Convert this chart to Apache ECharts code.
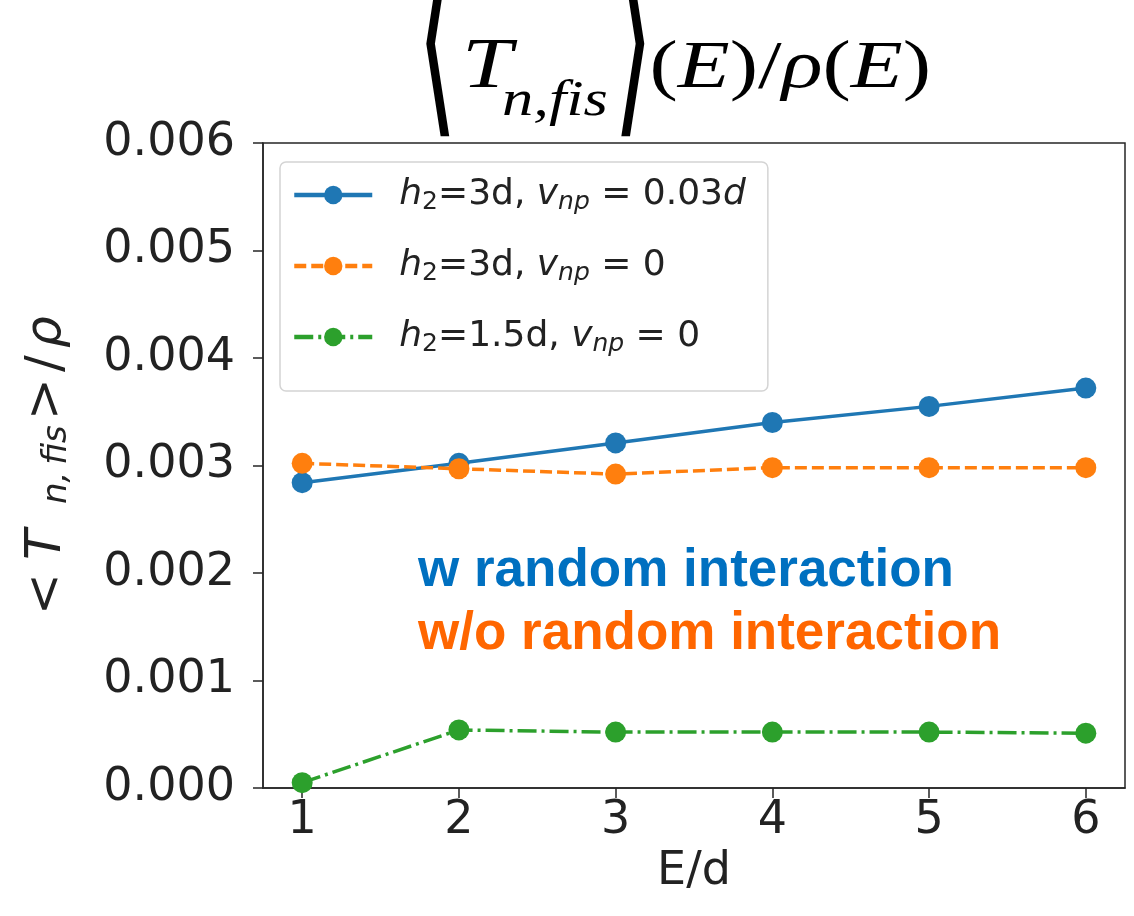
<!DOCTYPE html>
<html>
<head>
<meta charset="utf-8">
<script src="https://cdn.jsdelivr.net/npm/echarts@6/dist/echarts.min.js"></script>
<style>
  html, body { margin: 0; padding: 0; background: #ffffff; }
  #chart { width: 1134px; height: 916px; }
</style>
</head>
<body>
<div id="chart"></div>
<script>
// Excitation energy in units of d
const energies = [1, 2, 3, 4, 5, 6];
// <T_n,fis>/rho for each configuration
const withInteraction = [0.00284, 0.00302, 0.00321, 0.00340, 0.00355, 0.00372];   // h2=3d, v_np=0.03d
const withoutInteraction = [0.00302, 0.00297, 0.00292, 0.00298, 0.00298, 0.00298]; // h2=3d, v_np=0
const smallH2 = [0.00005, 0.00054, 0.00052, 0.00052, 0.00052, 0.00051];             // h2=1.5d, v_np=0

const xTicks = [1, 2, 3, 4, 5, 6];
const yTicks = [0, 0.001, 0.002, 0.003, 0.004, 0.005, 0.006];

const seriesNames = ['h2=3d, vnp=0.03d', 'h2=3d, vnp=0', 'h2=1.5d, vnp=0'];
const legendRich = {
  'h2=3d, vnp=0.03d': '{it0|h}{sb|2}{rm|=3d, }{it|v}{si|np}{rm| = 0.03}{it|d}',
  'h2=3d, vnp=0': '{it0|h}{sb|2}{rm|=3d, }{it|v}{si|np}{rm| = 0}',
  'h2=1.5d, vnp=0': '{it0|h}{sb|2}{rm|=1.5d, }{it|v}{si|np}{rm| = 0}'
};

const INK = '#222222';
const SANS = 'DejaVu Sans';
const SERIF = 'Liberation Serif';

function pairs(ys) {
  return energies.map((x, i) => [x, ys[i]]);
}

// y position for a 'middle'-aligned text whose alphabetic baseline should sit at `baseline`
function mid(baseline, size) {
  return baseline - 0.3 * size;
}

const chart = echarts.init(document.getElementById('chart'), null, { renderer: 'canvas' });

// Title:  <T_{n,fis}>(E)/rho(E)
const bracketStyle = { fontFamily: SANS, fontSize: 80, fill: '#000', align: 'left', verticalAlign: 'middle' };
const titleGroup = {
  type: 'group',
  x: 0, y: 0,
  children: [
    { type: 'text', x: 417, y: 55, scaleX: 1.3, scaleY: 2.6, style: Object.assign({ text: '\u27E8' }, bracketStyle) },
    { type: 'text', x: 613, y: 55, scaleX: 1.3, scaleY: 2.6, style: Object.assign({ text: '\u27E9' }, bracketStyle) },
    {
      type: 'group', x: 427, y: 0, scaleX: 1.25, scaleY: 1,
      children: [
        { type: 'text', x: 28, y: mid(90, 72), style: { text: 'T', fontFamily: SERIF, fontStyle: 'italic', fontSize: 72, fill: '#000', align: 'left', verticalAlign: 'middle' } },
        { type: 'text', x: 60, y: mid(117, 50), style: { text: 'n,fis', fontFamily: SERIF, fontStyle: 'italic', fontSize: 50, fill: '#000', align: 'left', verticalAlign: 'middle' } },
        {
          type: 'text', x: 178, y: mid(90, 68),
          style: {
            text: '{u|(}{i|E}{u|)/}{i|\u03C1}{u|(}{i|E}{u|)}',
            align: 'left', verticalAlign: 'middle',
            rich: {
              u: { fontFamily: SERIF, fontSize: 68, fill: '#000' },
              i: { fontFamily: SERIF, fontSize: 68, fontStyle: 'italic', fill: '#000' }
            }
          }
        }
      ]
    }
  ]
};

// Y axis title:  < T_{n,fis} > / rho   (reads bottom to top)
const yTitle = {
  type: 'group',
  x: 62, y: 610,
  rotation: Math.PI / 2,
  children: [
    { type: 'text', x: -5, y: mid(0, 50), style: { text: '<', fontFamily: SANS, fontSize: 50, fill: INK, align: 'left', verticalAlign: 'middle' } },
    { type: 'text', x: 50, y: mid(0, 50), style: { text: 'T', fontFamily: SANS, fontStyle: 'italic', fontSize: 50, fill: INK, align: 'left', verticalAlign: 'middle' } },
    { type: 'text', x: 106, y: mid(11, 34) - 6, style: { text: 'n,\u2009fis', fontFamily: SANS, fontStyle: 'italic', fontSize: 34, fill: INK, align: 'left', verticalAlign: 'middle' } },
    { type: 'text', x: 190, y: mid(0, 50), style: { text: '>', fontFamily: SANS, fontSize: 50, fill: INK, align: 'left', verticalAlign: 'middle' } },
    { type: 'text', x: 238, y: mid(0, 50), style: { text: '/', fontFamily: SANS, fontSize: 50, fill: INK, align: 'left', verticalAlign: 'middle' } },
    { type: 'text', x: 262, y: mid(0, 50), style: { text: '\u03C1', fontFamily: SANS, fontStyle: 'italic', fontSize: 50, fill: INK, align: 'left', verticalAlign: 'middle' } }
  ]
};

// In-plot annotations
const notes = [
  { type: 'text', x: 418, y: mid(587, 53), style: { text: 'w random interaction', fontFamily: 'Liberation Sans', fontWeight: 'bold', fontSize: 53, fill: '#0070c0', align: 'left', verticalAlign: 'middle' } },
  { type: 'text', x: 418, y: mid(650, 53), style: { text: 'w/o random interaction', fontFamily: 'Liberation Sans', fontWeight: 'bold', fontSize: 53, fill: '#ff6600', align: 'left', verticalAlign: 'middle' } }
];

const legendTextRich = {
  it0: { fontFamily: SANS, fontStyle: 'italic', fontSize: 36, lineHeight: 40, fill: INK, padding: [0, 0, 0, 22] },
  it: { fontFamily: SANS, fontStyle: 'italic', fontSize: 36, lineHeight: 40, fill: INK },
  rm: { fontFamily: SANS, fontSize: 36, lineHeight: 40, fill: INK },
  sb: { fontFamily: SANS, fontSize: 25, lineHeight: 22, verticalAlign: 'bottom', fill: INK },
  si: { fontFamily: SANS, fontStyle: 'italic', fontSize: 25, lineHeight: 22, verticalAlign: 'bottom', fill: INK }
};

const option = {
  animation: false,
  backgroundColor: '#ffffff',
  grid: {
    left: 263, right: 9, top: 143, bottom: 128,
    show: true, borderColor: '#262626', borderWidth: 1.5, backgroundColor: 'transparent'
  },
  legend: {
    orient: 'vertical',
    left: 280, top: 162,
    padding: [15, 22, 34, 12],
    itemWidth: 78, itemHeight: 23, itemGap: 33,
    borderColor: '#d4d4d4', borderWidth: 1.5, borderRadius: 6,
    backgroundColor: 'rgba(255,255,255,0.85)',
    lineStyle: { width: 4.5 },
    data: seriesNames,
    formatter: name => legendRich[name],
    textStyle: { color: INK, rich: legendTextRich }
  },
  xAxis: {
    type: 'value',
    min: 0.75, max: 6.25,
    name: 'E/d',
    nameLocation: 'middle',
    nameGap: 53,
    nameTextStyle: { fontFamily: SANS, fontSize: 46, color: INK },
    axisLine: { show: true, lineStyle: { color: '#262626', width: 1.5 } },
    axisTick: { show: true, inside: false, length: 10, customValues: xTicks, lineStyle: { color: '#262626', width: 1.5 } },
    axisLabel: { show: true, margin: 10, customValues: xTicks, fontFamily: SANS, fontSize: 46, color: INK, formatter: v => String(v) },
    splitLine: { show: false }
  },
  yAxis: {
    type: 'value',
    min: 0, max: 0.006,
    axisLine: { show: true, lineStyle: { color: '#262626', width: 1.5 } },
    axisTick: { show: true, inside: false, length: 10, customValues: yTicks, lineStyle: { color: '#262626', width: 1.5 } },
    axisLabel: { show: true, margin: 28, customValues: yTicks, fontFamily: SANS, fontSize: 46, color: INK, formatter: v => v.toFixed(3) },
    splitLine: { show: false }
  },
  graphic: [titleGroup, yTitle].concat(notes),
  series: [
    {
      name: seriesNames[0], type: 'line', data: pairs(withInteraction),
      symbol: 'circle', symbolSize: 21, z: 3,
      lineStyle: { color: '#1f77b4', width: 3.5, type: 'solid' },
      itemStyle: { color: '#1f77b4' }
    },
    {
      name: seriesNames[1], type: 'line', data: pairs(withoutInteraction),
      symbol: 'circle', symbolSize: 21, z: 4,
      lineStyle: { color: '#ff7f0e', width: 3.5, type: [12, 5] },
      itemStyle: { color: '#ff7f0e' }
    },
    {
      name: seriesNames[2], type: 'line', data: pairs(smallH2),
      symbol: 'circle', symbolSize: 21, z: 5,
      lineStyle: { color: '#2ca02c', width: 3.5, type: [19, 5, 3, 5] },
      itemStyle: { color: '#2ca02c' }
    }
  ]
};

chart.setOption(option);
</script>
</body>
</html>
